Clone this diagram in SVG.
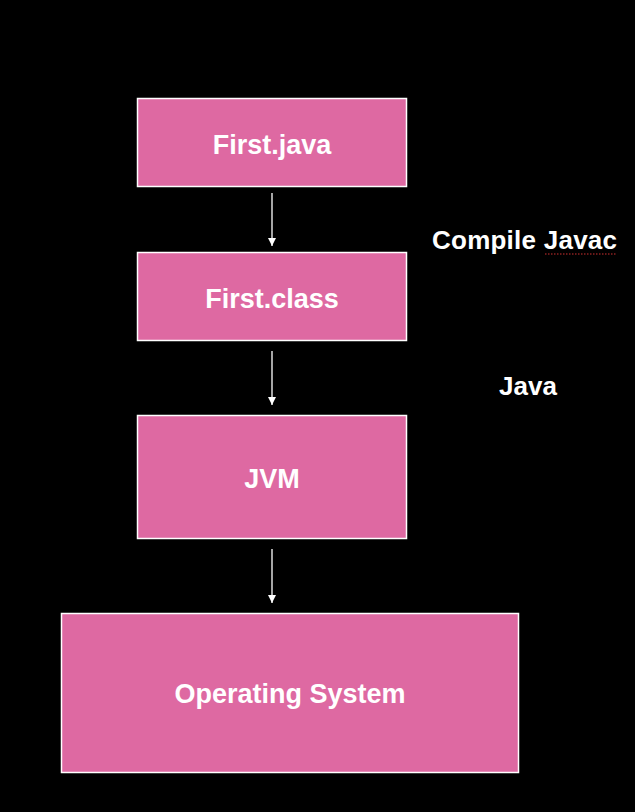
<svg xmlns="http://www.w3.org/2000/svg" width="635" height="812" viewBox="0 0 635 812">
<style>
.box{fill:#de69a2;stroke:#ffffff;stroke-width:1.5}
.lbl{font-family:"Liberation Sans",Arial,sans-serif;font-weight:bold;fill:#ffffff;text-anchor:middle;font-size:27px}
.side{font-family:"Liberation Sans",Arial,sans-serif;font-weight:bold;fill:#ffffff;font-size:26px}
.conn{stroke:#ffffff;stroke-width:1.3;fill:none;marker-end:url(#ah)}
</style>
<defs>
<marker id="ah" viewBox="0 0 10 10" refX="10" refY="5" markerWidth="8" markerHeight="8" markerUnits="userSpaceOnUse" orient="auto">
<path d="M0,0 L10,5 L0,10 Z" fill="#ffffff"/>
</marker>
</defs>
<rect width="635" height="812" fill="#000000"/>
<g id="first-java"><rect class="box" x="137.5" y="98.5" width="269" height="88"/><text class="lbl" x="272" y="154">First.java</text></g>
<g id="first-class"><rect class="box" x="137.5" y="252.5" width="269" height="88"/><text class="lbl" x="272" y="308">First.class</text></g>
<g id="jvm"><rect class="box" x="137.5" y="415.5" width="269" height="123"/><text class="lbl" x="272" y="488">JVM</text></g>
<g id="os"><rect class="box" x="61.5" y="613.5" width="457" height="159"/><text class="lbl" x="290" y="703">Operating System</text></g>
<g id="labels">
<text class="side" x="432" y="249" textLength="185">Compile Javac</text>
<path d="M545,254 L617,254" stroke="#d03030" stroke-width="1" stroke-dasharray="1.5,1.5"/>
<text class="side" x="499" y="395">Java</text>
</g>
<g id="connectors">
<line class="conn" x1="272" y1="193" x2="272" y2="246"/>
<line class="conn" x1="272" y1="351" x2="272" y2="405"/>
<line class="conn" x1="272" y1="549" x2="272" y2="603"/>
</g>
</svg>
